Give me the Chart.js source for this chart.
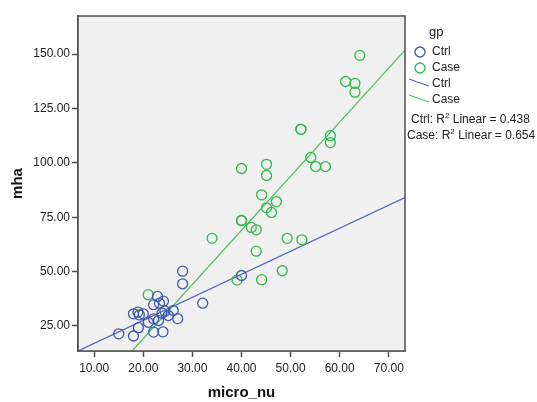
<!DOCTYPE html>
<html>
<head>
<meta charset="utf-8">
<script src="https://cdn.jsdelivr.net/npm/chart.js@4/dist/chart.umd.min.js"></script>
<style>
  html, body { margin: 0; padding: 0; background: #ffffff; }
  #c { display: block; }
</style>
</head>
<body>
<canvas id="c" width="537" height="402"></canvas>
<script>
// micro_nu (x) vs mha (y), grouped by gp
const ctrlX = [28.0, 28.0, 22.9, 22.1, 23.3, 24.1, 18.0, 18.9, 19.2, 20.0, 21.0, 22.1, 23.1, 23.8, 24.4, 25.1, 26.1, 27.0, 19.0, 22.1, 24.0, 15.0, 18.0, 32.1, 40.0];
const ctrlY = [50.2, 44.4, 38.6, 34.8, 35.5, 36.4, 30.6, 31.4, 30.1, 30.6, 26.7, 28.3, 27.5, 30.9, 31.8, 29.8, 32.1, 28.4, 24.2, 22.2, 22.3, 21.4, 20.4, 35.5, 48.2];

const caseX = [64.1, 61.2, 63.1, 63.1, 52.1, 52.1, 58.1, 58.1, 54.1, 55.1, 57.1, 40.0, 45.1, 45.1, 44.1, 47.1, 45.1, 46.1, 40.0, 40.0, 42.0, 43.0, 34.0, 49.3, 52.3, 43.0, 39.1, 44.1, 48.3, 21.0];
const caseY = [149.4, 137.4, 136.5, 132.5, 115.4, 115.4, 112.5, 109.3, 102.5, 98.3, 98.3, 97.4, 99.3, 94.2, 85.3, 82.2, 79.3, 77.2, 73.5, 73.5, 70.3, 69.2, 65.3, 65.3, 64.6, 59.4, 46.1, 46.3, 50.4, 39.4];

// linear fit lines (end points)
const ctrlFitX = [6.7, 73.3];
const ctrlFitY = [13.5, 84.0];
const caseFitX = [17.7, 73.3];
const caseFitY = [13.5, 151.8];

// fit statistics
const groupNames = ['Ctrl', 'Case'];
const rSquared = ['0.438', '0.654'];

// axes
const xTicks = [10, 20, 30, 40, 50, 60, 70];
const yTicks = [25, 50, 75, 100, 125, 150];
const xRange = [6.7, 73.3];
const yRange = [13.5, 167.5];

const BLUE = '#3e58ac';
const GREEN = '#2eb848';
const AXIS = '#4d4d4d';
const FONT = '"Liberation Sans", Arial, sans-serif';

const toPoints = (xs, ys) => xs.map((x, i) => ({ x: x, y: ys[i] }));

const plotFrame = {
  id: 'plotFrame',
  beforeDatasetsDraw(chart) {
    const a = chart.chartArea, ctx = chart.ctx;
    ctx.save();
    ctx.fillStyle = '#f0f0f0';
    ctx.fillRect(a.left, a.top, a.right - a.left, a.bottom - a.top);
    ctx.restore();
  },
  afterDraw(chart) {
    const a = chart.chartArea, ctx = chart.ctx;
    ctx.save();
    ctx.strokeStyle = AXIS;
    ctx.lineWidth = 1.5;
    ctx.strokeRect(a.left, a.top, a.right - a.left, a.bottom - a.top);
    ctx.restore();
  }
};

const sideLegend = {
  id: 'sideLegend',
  afterDraw(chart) {
    const ctx = chart.ctx;
    const ds = chart.data.datasets;
    ctx.save();
    ctx.fillStyle = '#222';
    ctx.textBaseline = 'middle';
    ctx.textAlign = 'left';
    ctx.font = '13px ' + FONT;
    ctx.fillText('gp', 429, 32);

    ctx.font = '12px ' + FONT;
    // marker entries
    [0, 1].forEach((k, i) => {
      const y = 52 + i * 16;
      ctx.beginPath();
      ctx.arc(420, y, 5, 0, Math.PI * 2);
      ctx.strokeStyle = ds[k].borderColor;
      ctx.lineWidth = 1.3;
      ctx.stroke();
      ctx.fillStyle = '#222';
      ctx.fillText(groupNames[i], 432, y);
    });
    // line entries
    [2, 3].forEach((k, i) => {
      const y = 84 + i * 16;
      ctx.beginPath();
      ctx.moveTo(409, y - 5);
      ctx.lineTo(429, y + 2);
      ctx.strokeStyle = ds[k].borderColor;
      ctx.lineWidth = 1.2;
      ctx.stroke();
      ctx.fillStyle = '#222';
      ctx.fillText(groupNames[i], 432, y);
    });
    // R squared notes
    const rLines = [[411, 120], [407, 136]];
    rLines.forEach((p, i) => {
      let x = p[0];
      const y = p[1];
      ctx.font = '12px ' + FONT;
      const a = groupNames[i] + ': R';
      ctx.fillText(a, x, y);
      x += ctx.measureText(a).width;
      ctx.font = '8px ' + FONT;
      ctx.fillText('2', x, y - 4);
      x += ctx.measureText('2').width;
      ctx.font = '12px ' + FONT;
      ctx.fillText(' Linear = ' + rSquared[i], x, y);
    });
    ctx.restore();
  }
};

new Chart(document.getElementById('c'), {
  type: 'scatter',
  data: {
    datasets: [
      {
        label: 'Ctrl',
        data: toPoints(ctrlX, ctrlY),
        borderColor: BLUE,
        backgroundColor: 'rgba(0,0,0,0)',
        pointRadius: 5,
        pointBorderWidth: 1.3,
        pointHoverRadius: 5
      },
      {
        label: 'Case',
        data: toPoints(caseX, caseY),
        borderColor: GREEN,
        backgroundColor: 'rgba(0,0,0,0)',
        pointRadius: 5,
        pointBorderWidth: 1.3,
        pointHoverRadius: 5
      },
      {
        label: 'Ctrl fit',
        data: toPoints(ctrlFitX, ctrlFitY),
        showLine: true,
        borderColor: '#5466bd',
        borderWidth: 1.2,
        pointRadius: 0,
        fill: false
      },
      {
        label: 'Case fit',
        data: toPoints(caseFitX, caseFitY),
        showLine: true,
        borderColor: '#45c05c',
        borderWidth: 1.2,
        pointRadius: 0,
        fill: false
      }
    ]
  },
  options: {
    responsive: false,
    animation: false,
    devicePixelRatio: 1,
    layout: { padding: { top: 16, right: 132, left: 0, bottom: 0 } },
    plugins: {
      legend: { display: false },
      tooltip: { enabled: false }
    },
    scales: {
      x: {
        type: 'linear',
        min: xRange[0],
        max: xRange[1],
        afterFit(scale) { scale.height = 51; },
        afterBuildTicks(scale) { scale.ticks = xTicks.map(v => ({ value: v })); },
        grid: { drawOnChartArea: false, drawTicks: true, tickLength: 6, tickColor: AXIS, tickWidth: 1.5 },
        border: { display: true, color: AXIS, width: 1.5 },
        ticks: {
          autoSkip: false,
          maxRotation: 0,
          padding: 4,
          color: '#222',
          font: { family: FONT, size: 12 },
          callback: v => Number(v).toFixed(2)
        },
        title: {
          display: true,
          text: 'micro_nu',
          color: '#111',
          font: { family: FONT, size: 15, weight: 'bold', lineHeight: 1 },
          padding: { top: 0, bottom: 2 }
        }
      },
      y: {
        type: 'linear',
        min: yRange[0],
        max: yRange[1],
        afterFit(scale) { scale.width = 78; },
        afterBuildTicks(scale) { scale.ticks = yTicks.map(v => ({ value: v })); },
        grid: { drawOnChartArea: false, drawTicks: true, tickLength: 6, tickColor: AXIS, tickWidth: 1.5 },
        border: { display: true, color: AXIS, width: 1.5 },
        ticks: {
          autoSkip: false,
          padding: 2,
          color: '#222',
          font: { family: FONT, size: 12 },
          callback: v => Number(v).toFixed(2)
        },
        title: {
          display: true,
          text: 'mha',
          color: '#111',
          font: { family: FONT, size: 15, weight: 'bold', lineHeight: 1 },
          padding: { top: 10, bottom: 0 }
        }
      }
    }
  },
  plugins: [plotFrame, sideLegend]
});
</script>
</body>
</html>
